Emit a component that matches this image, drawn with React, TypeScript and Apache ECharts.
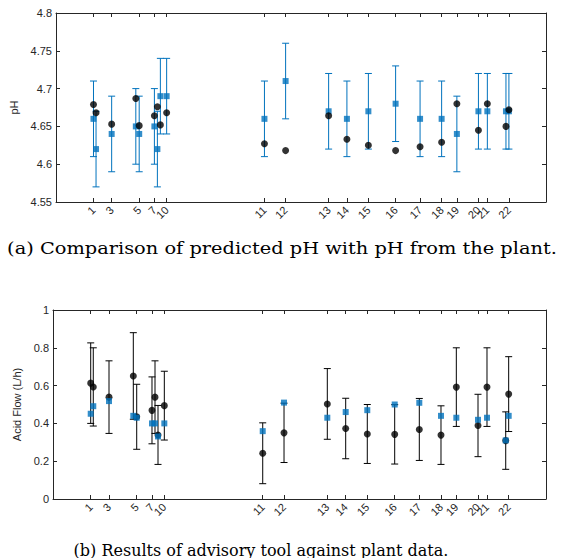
import React, { useEffect, useRef } from "react";
import * as echarts from "echarts";

// Sample times (axis units) of each measurement
const sampleTime = [7.65, 8.17, 11.36, 16.29, 16.98, 20.08, 20.69, 21.3, 22.58, 42.54, 46.86, 55.64, 59.37, 63.75, 69.31, 74.3, 78.7, 81.81, 86.21, 88.03, 91.83, 92.43];

// Tick positions and their labels
const tickPos = [7.65, 11.36, 16.98, 20.08, 22.58, 42.54, 46.86, 55.64, 59.37, 63.75, 69.31, 74.3, 78.7, 81.81, 86.21, 88.03, 92.43];
const tickLabels = ["1", "3", "5", "7", "10", "11", "12", "13", "14", "15", "16", "17", "18", "19", "20", "21", "22"];

// (a) pH
const phPred = [4.66, 4.62, 4.64, 4.65, 4.64, 4.65, 4.62, 4.69, 4.69, 4.66, 4.71, 4.67, 4.66, 4.67, 4.68, 4.66, 4.66, 4.64, 4.67, 4.67, 4.67, 4.67];
const phPredErr = [0.05, 0.05, 0.05, 0.05, 0.05, 0.05, 0.05, 0.05, 0.05, 0.05, 0.05, 0.05, 0.05, 0.05, 0.05, 0.05, 0.05, 0.05, 0.05, 0.05, 0.05, 0.05];
const phPlant = [4.679, 4.668, 4.653, 4.687, 4.651, 4.664, 4.676, 4.652, 4.668, 4.627, 4.618, 4.664, 4.633, 4.625, 4.618, 4.623, 4.629, 4.68, 4.645, 4.68, 4.65, 4.672];

// (b) Acid flow (L/h)
const flowPlant = [0.613, 0.593, 0.539, 0.651, 0.435, 0.469, 0.539, 0.339, 0.494, 0.242, 0.35, 0.503, 0.373, 0.344, 0.342, 0.368, 0.338, 0.592, 0.389, 0.592, 0.309, 0.555];
const flowPlantErr = [0.213, 0.207, 0.192, 0.229, 0.172, 0.177, 0.192, 0.156, 0.182, 0.161, 0.157, 0.187, 0.16, 0.156, 0.157, 0.164, 0.155, 0.208, 0.165, 0.208, 0.152, 0.198];
const flowTool = [0.451, 0.491, 0.518, 0.44, 0.43, 0.4, 0.4, 0.331, 0.4, 0.359, 0.51, 0.43, 0.46, 0.47, 0.5, 0.509, 0.44, 0.43, 0.419, 0.43, 0.31, 0.44];

const captionA = "(a) Comparison of predicted pH with pH from the plant.";
const captionB = "(b) Results of advisory tool against plant data.";

const AX = "#262626";
const BLUE = "#0072BD";
const SANS = "'Liberation Sans', Arial, sans-serif";
const SERIF = "'DejaVu Serif', serif";

function labelFor(v: number): string {
  for (let i = 0; i < tickPos.length; i++) {
    if (Math.abs(tickPos[i] - v) < 1e-6) return tickLabels[i];
  }
  return "";
}

function errorBarSeries(data: number[][], color: string, xi: number, yi: number, z: number) {
  return {
    type: "custom",
    xAxisIndex: xi,
    yAxisIndex: yi,
    z,
    encode: { x: 0, y: [1, 2] },
    data,
    renderItem: (params: any, api: any) => {
      const x = api.value(0);
      const lo = api.value(1);
      const hi = api.value(2);
      const p1 = api.coord([x, lo]);
      const p2 = api.coord([x, hi]);
      const w = 3.5;
      const st = { stroke: color, lineWidth: 1 };
      return {
        type: "group",
        children: [
          { type: "line", shape: { x1: p1[0], y1: p1[1], x2: p2[0], y2: p2[1] }, style: st },
          { type: "line", shape: { x1: p1[0] - w, y1: p1[1], x2: p1[0] + w, y2: p1[1] }, style: st },
          { type: "line", shape: { x1: p2[0] - w, y1: p2[1], x2: p2[0] + w, y2: p2[1] }, style: st },
        ],
      };
    },
  };
}

function xAxes(gridIndex: number) {
  return [
    {
      type: "value",
      gridIndex,
      min: 0,
      max: 100,
      position: "bottom",
      axisLine: { onZero: false, lineStyle: { color: AX, width: 1 } },
      axisTick: { inside: true, length: 4, customValues: tickPos, lineStyle: { color: AX } },
      axisLabel: {
        customValues: tickPos,
        rotate: 45,
        formatter: (v: number) => labelFor(v),
        color: AX,
        fontSize: 11,
        fontFamily: SANS,
        margin: 6,
      },
      splitLine: { show: false },
    },
    {
      type: "value",
      gridIndex,
      min: 0,
      max: 100,
      position: "top",
      axisLine: { onZero: false, lineStyle: { color: AX, width: 1 } },
      axisTick: { inside: true, length: 4, customValues: tickPos, lineStyle: { color: AX } },
      axisLabel: { show: false },
      splitLine: { show: false },
    },
  ];
}

function yAxes(gridIndex: number, min: number, max: number, interval: number, name: string, nameGap: number) {
  return [
    {
      type: "value",
      gridIndex,
      min,
      max,
      interval,
      position: "left",
      name,
      nameLocation: "middle",
      nameGap,
      nameTextStyle: { color: AX, fontSize: 11, fontFamily: SANS },
      axisLine: { show: true, onZero: false, lineStyle: { color: AX, width: 1 } },
      axisTick: { show: true, inside: true, length: 4, lineStyle: { color: AX } },
      axisLabel: {
        color: AX,
        fontSize: 11,
        fontFamily: SANS,
        margin: 4,
        formatter: (v: number) => String(+v.toFixed(2)),
      },
      splitLine: { show: false },
    },
    {
      type: "value",
      gridIndex,
      min,
      max,
      interval,
      position: "right",
      axisLine: { show: true, onZero: false, lineStyle: { color: AX, width: 1 } },
      axisTick: { show: true, inside: true, length: 4, lineStyle: { color: AX } },
      axisLabel: { show: false },
      splitLine: { show: false },
    },
  ];
}

export default function App() {
  const ref = useRef<HTMLDivElement>(null);
  useEffect(() => {
    document.body.style.margin = "0";
    if (!ref.current) return;
    const chart = echarts.init(ref.current, null, { renderer: "svg" });

    const phBars = sampleTime.map((x, i) => [x, phPred[i] - phPredErr[i], phPred[i] + phPredErr[i]]);
    const phPredPts = sampleTime.map((x, i) => [x, phPred[i]]);
    const phPlantPts = sampleTime.map((x, i) => [x, phPlant[i]]);
    const flowBars = sampleTime.map((x, i) => [x, flowPlant[i] - flowPlantErr[i], flowPlant[i] + flowPlantErr[i]]);
    const flowPlantPts = sampleTime.map((x, i) => [x, flowPlant[i]]);
    const flowToolPts = sampleTime.map((x, i) => [x, flowTool[i]]);

    chart.setOption({
      animation: false,
      backgroundColor: "#ffffff",
      grid: [
        { left: 53, top: 13, width: 493, height: 189 },
        { left: 53, top: 310, width: 493, height: 189 },
      ],
      xAxis: [...xAxes(0), ...xAxes(1)],
      yAxis: [
        ...yAxes(0, 4.55, 4.8, 0.05, "pH", 37),
        ...yAxes(1, 0, 1, 0.2, "Acid Flow (L/h)", 30),
      ],
      graphic: [
        {
          type: "text",
          x: 282,
          y: 248,
          scaleX: 1.14,
          scaleY: 1,
          style: {
            text: captionA,
            font: `17px ${SERIF}`,
            fill: "#000",
            textAlign: "center",
            textVerticalAlign: "middle",
            verticalAlign: "middle",
          },
        },
        {
          type: "text",
          x: 261,
          y: 550,
          style: {
            text: captionB,
            font: `16px ${SERIF}`,
            fill: "#000",
            textAlign: "center",
            textVerticalAlign: "middle",
            verticalAlign: "middle",
          },
        },
      ],
      series: [
        errorBarSeries(phBars, BLUE, 0, 0, 2),
        {
          type: "scatter",
          xAxisIndex: 0,
          yAxisIndex: 0,
          z: 3,
          symbol: "rect",
          symbolSize: 6,
          itemStyle: { color: BLUE },
          data: phPredPts,
        },
        {
          type: "scatter",
          xAxisIndex: 0,
          yAxisIndex: 0,
          z: 4,
          symbol: "circle",
          symbolSize: 7,
          itemStyle: { color: "#000" },
          data: phPlantPts,
        },
        errorBarSeries(flowBars, "#000", 2, 2, 2),
        {
          type: "scatter",
          xAxisIndex: 2,
          yAxisIndex: 2,
          z: 3,
          symbol: "circle",
          symbolSize: 7,
          itemStyle: { color: "#000" },
          data: flowPlantPts,
        },
        {
          type: "scatter",
          xAxisIndex: 2,
          yAxisIndex: 2,
          z: 4,
          symbol: "rect",
          symbolSize: 6,
          itemStyle: { color: BLUE },
          data: flowToolPts,
        },
      ],
    });
    return () => chart.dispose();
  }, []);
  return <div ref={ref} style={{ width: 566, height: 558 }} />;
}
